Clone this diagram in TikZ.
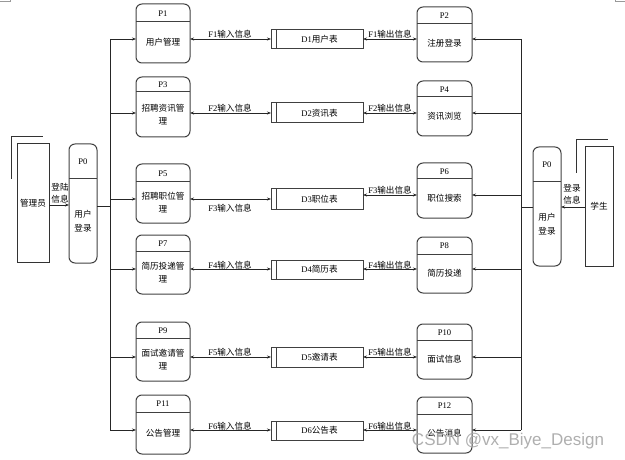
\documentclass[tikz,border=0pt]{standalone}
\usepackage{fontspec}
\setmainfont{Liberation Serif}
\newfontfamily\cjk{Noto Sans CJK SC}
\usetikzlibrary{arrows.meta}
\newcommand{\zh}[1]{{\cjk #1}}
\tikzset{
  shapeline/.style={draw=black!75, line width=1pt},
  proc/.style={shapeline, rounded corners=6pt, inner sep=0pt, outer sep=0pt},
  store/.style={shapeline, inner sep=0pt, outer sep=0pt},
  ent/.style={draw=black!80, line width=0.9pt, inner sep=0pt, outer sep=0pt},
  txt/.style={font=\fontsize{8.6}{13.5}\selectfont, align=center, inner sep=0pt},
  lbl/.style={font=\fontsize{8.6}{12}\selectfont, align=center, inner sep=0pt},
  wire/.style={draw=black!85, line width=0.8pt},
  arr/.style={wire, -{Stealth[length=4pt,width=3pt]}},
  darr/.style={wire, {Stealth[length=4pt,width=3pt]}-{Stealth[length=4pt,width=3pt]}},
}
% name, x1, y1, x2, y2, divider y, id, body
\newcommand{\proc}[8]{%
  \node[proc, minimum width={(#4-#2)*1pt}, minimum height={(#5-#3)*1pt}] (#1) at ({(#2+#4)/2},{(#3+#5)/2}) {};
  \draw[shapeline] (#2,#6) -- (#4,#6);
  \node[txt] (#1h) at ({(#2+#4)/2},{(#3+#6)/2+0.5}) {#7};
  \node[txt] (#1b) at ({(#2+#4)/2},{(#6+#5)/2}) {#8};
}
% name, y1, y2, text
\newcommand{\store}[4]{%
  \node[store, minimum width=92pt, minimum height={(#3-#2)*1pt}] (#1) at (317,{(#2+#3)/2}) {};
  \draw[shapeline] (276,#2) -- (276,#3);
  \node[txt] (#1t) at (319.5,{(#2+#3)/2}) {#4};
}
\begin{document}
\begin{tikzpicture}[x=1pt,y={(0pt,-1pt)}]
\useasboundingbox (0,0) rectangle (625,460);
% page corner marks
\draw[black!40, line width=0.6pt] (0,1) -- (10,1) -- (10,0);
\draw[black!40, line width=0.6pt] (625,1) -- (615,1) -- (615,0);

% processes, left column
\proc{P1}{136}{4}{190}{63}{22}{P1}{\zh{用户管理}}
\proc{P3}{136}{77}{190}{137}{92}{P3}{\zh{招聘资讯管}\\\zh{理}}
\proc{P5}{136}{164}{190}{223}{182}{P5}{\zh{招聘职位管}\\\zh{理}}
\proc{P7}{136}{235}{190}{294}{251}{P7}{\zh{简历投递管}\\\zh{理}}
\proc{P9}{136}{322}{190}{381}{338}{P9}{\zh{面试邀请管}\\\zh{理}}
\proc{P11}{136}{395}{190}{454}{412}{P11}{\zh{公告管理}}
% processes, right column
\proc{P2}{417}{7}{472}{62}{24}{P2}{\zh{注册登录}}
\proc{P4}{417}{81}{472}{136}{97}{P4}{\zh{资讯浏览}}
\proc{P6}{417}{163}{472}{218}{179}{P6}{\zh{职位搜索}}
\proc{P8}{417}{237}{472}{293}{254}{P8}{\zh{简历投递}}
\proc{P10}{417}{324}{472}{379}{340}{P10}{\zh{面试信息}}
\proc{P12}{417}{397}{472}{453}{414}{P12}{\zh{公告消息}}
% login processes
\proc{PL}{69}{144}{97}{263}{179}{P0}{\zh{用户}\\\zh{登录}}
\proc{PR}{533}{147}{561}{266}{182}{P0}{\zh{用户}\\\zh{登录}}

% data stores
\store{D1}{30}{49}{D1\zh{用户表}}
\store{D2}{103}{123}{D2\zh{资讯表}}
\store{D3}{189}{209}{D3\zh{职位表}}
\store{D4}{260}{279}{D4\zh{简历表}}
\store{D5}{347}{367}{D5\zh{邀请表}}
\store{D6}{421}{440}{D6\zh{公告表}}

% external entities
\node[ent, minimum width=32pt, minimum height=119pt] (adm) at (33,202.5) {};
\node[txt] (admt) at (33,203) {\zh{管理员}};
\draw[ent] (11,179) -- (11,136) -- (43,136);
\node[ent, minimum width=28pt, minimum height=120pt] (stu) at (599,206) {};
\node[txt] (stut) at (599,206) {\zh{学生}};
\draw[ent] (576,173) -- (576,139) -- (608,139);

% entity flows
\coordinate (af) at (59,205);
\draw[arr] (af -| adm.east) -- (af -| PL.west);
\node[lbl] (afl) at (60,193) {\zh{登陆}\\\zh{信息}};
\coordinate (sf) at (572,207);
\draw[arr] (sf -| stu.west) -- (sf -| PR.east);
\node[lbl] (sfl) at (572,194) {\zh{登录}\\\zh{信息}};

% buses
\coordinate (lb1) at (110,39);
\coordinate (lb2) at (110,113);
\coordinate (lb3) at (110,199);
\coordinate (lb4) at (110,269);
\coordinate (lb5) at (110,357);
\coordinate (lb6) at (110,430);
\coordinate (lp) at (110,206);
\coordinate (rb1) at (521,39);
\coordinate (rb2) at (521,113);
\coordinate (rb3) at (521,195);
\coordinate (rb4) at (521,269);
\coordinate (rb5) at (521,357);
\coordinate (rb6) at (521,430);
\coordinate (rp) at (521,207);
\draw[wire] (lb1) -- (lb6);
\draw[wire] (rb1) -- (rb6);
\draw[wire] (lp -| PL.east) -- (lp);
\draw[wire] (rp -| PR.west) -- (rp);
\foreach \i/\p in {1/P1,2/P3,3/P5,4/P7,5/P9,6/P11}{
  \draw[arr] (lb\i) -- (lb\i -| \p.west);
}
\foreach \i/\p in {1/P2,2/P4,3/P6,4/P8,5/P10,6/P12}{
  \draw[arr] (rb\i) -- (rb\i -| \p.east);
}
% process <-> store flows
\foreach \i/\p/\d in {1/P1/D1,2/P3/D2,3/P5/D3,4/P7/D4,5/P9/D5,6/P11/D6}{
  \draw[darr] (lb\i -| \p.east) -- (lb\i -| \d.west);
}
\foreach \i/\p/\d in {1/P2/D1,2/P4/D2,3/P6/D3,4/P8/D4,5/P10/D5,6/P12/D6}{
  \draw[darr] (rb\i -| \d.east) -- (rb\i -| \p.west);
}
% flow labels
\node[lbl] (l1) at (230,34) {F1\zh{输入信息}};
\node[lbl] (l2) at (230,108) {F2\zh{输入信息}};
\node[lbl] (l3) at (230,208) {F3\zh{输入信息}};
\node[lbl] (l4) at (230,265) {F4\zh{输入信息}};
\node[lbl] (l5) at (230,352) {F5\zh{输入信息}};
\node[lbl] (l6) at (230,426) {F6\zh{输入信息}};
\node[lbl] (r1) at (390,34) {F1\zh{输出信息}};
\node[lbl] (r2) at (390,108) {F2\zh{输出信息}};
\node[lbl] (r3) at (390,190) {F3\zh{输出信息}};
\node[lbl] (r4) at (390,265) {F4\zh{输出信息}};
\node[lbl] (r5) at (390,352) {F5\zh{输出信息}};
\node[lbl] (r6) at (390,426) {F6\zh{输出信息}};

% watermark
\node[font=\fontspec{Liberation Sans}\fontsize{17}{17}\selectfont, text=black!35, inner sep=0pt, opacity=0.9] (wm) at (508,441) {CSDN @vx\_Biye\_Design};
\end{tikzpicture}
\end{document}
